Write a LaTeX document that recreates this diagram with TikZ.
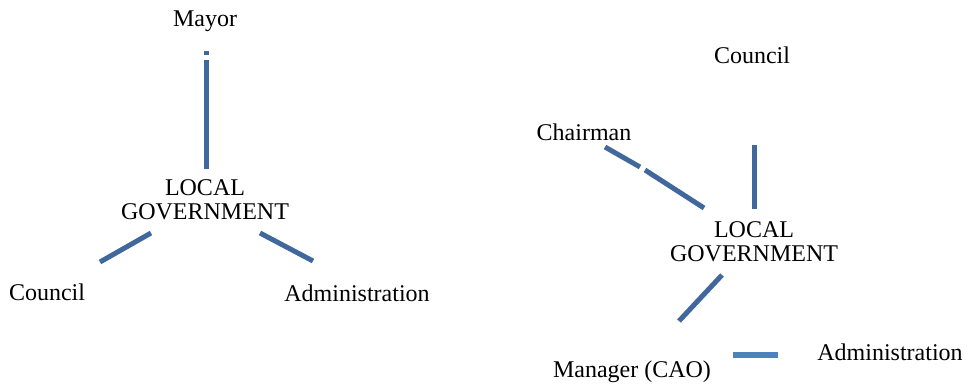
\documentclass[tikz,border=0pt]{standalone}
\usepackage{fontspec}
\setmainfont{Liberation Serif}
\begin{document}
\begin{tikzpicture}[x=1pt,y=-1pt,
  lbl/.style={inner sep=0pt,font=\fontsize{24}{24}\selectfont},
  lbase/.style={lbl,anchor=base},
  conn/.style={draw=lineblue,line width=5pt},
  conn2/.style={draw=lineblue2,line width=6pt}]
\definecolor{lineblue}{HTML}{41689C}
\definecolor{lineblue2}{HTML}{4F81BD}
\useasboundingbox[fill=white] (0,0) rectangle (968,384);
% left diagram
\node[lbase] (mayor) at (205,26) {Mayor};
\node[lbl,align=center] (lg1) at (205,200) {LOCAL\\GOVERNMENT};
\node[lbase] (council1) at (47,300) {Council};
\node[lbase] (admin1) at (357,301) {Administration};
\coordinate (m0) at (206,51);
\coordinate (m1) at (206,55);
\coordinate (m2) at (206,60);
\coordinate (m3) at (206,169);
\draw[conn] (m0) -- (m1);
\draw[conn] (m2) -- (m3);
\coordinate (c1) at (151,233);
\coordinate (c2) at (100,262);
\draw[conn] (c1) -- (c2);
\coordinate (a1) at (260,233);
\coordinate (a2) at (313,261);
\draw[conn] (a1) -- (a2);
% right diagram
\node[lbase] (council2) at (752,63) {Council};
\node[lbase] (chair) at (584,140) {Chairman};
\node[lbl,align=center] (lg2) at (754,242) {LOCAL\\GOVERNMENT};
\node[lbase] (manager) at (632,377) {Manager (CAO)};
\node[lbase] (admin2) at (890,360) {Administration};
\coordinate (h1) at (605,147);
\coordinate (h2) at (640,167);
\coordinate (h3) at (645,170);
\coordinate (h4) at (704,208);
\draw[conn] (h1) -- (h2);
\draw[conn] (h3) -- (h4);
\coordinate (v1) at (754,145);
\coordinate (v2) at (754,209);
\draw[conn] (v1) -- (v2);
\coordinate (g1) at (722,275);
\coordinate (g2) at (679,321);
\draw[conn] (g1) -- (g2);
\coordinate (d1) at (733,355);
\coordinate (d2) at (778,355);
\draw[conn2] (d1) -- (d2);
\end{tikzpicture}
\end{document}
